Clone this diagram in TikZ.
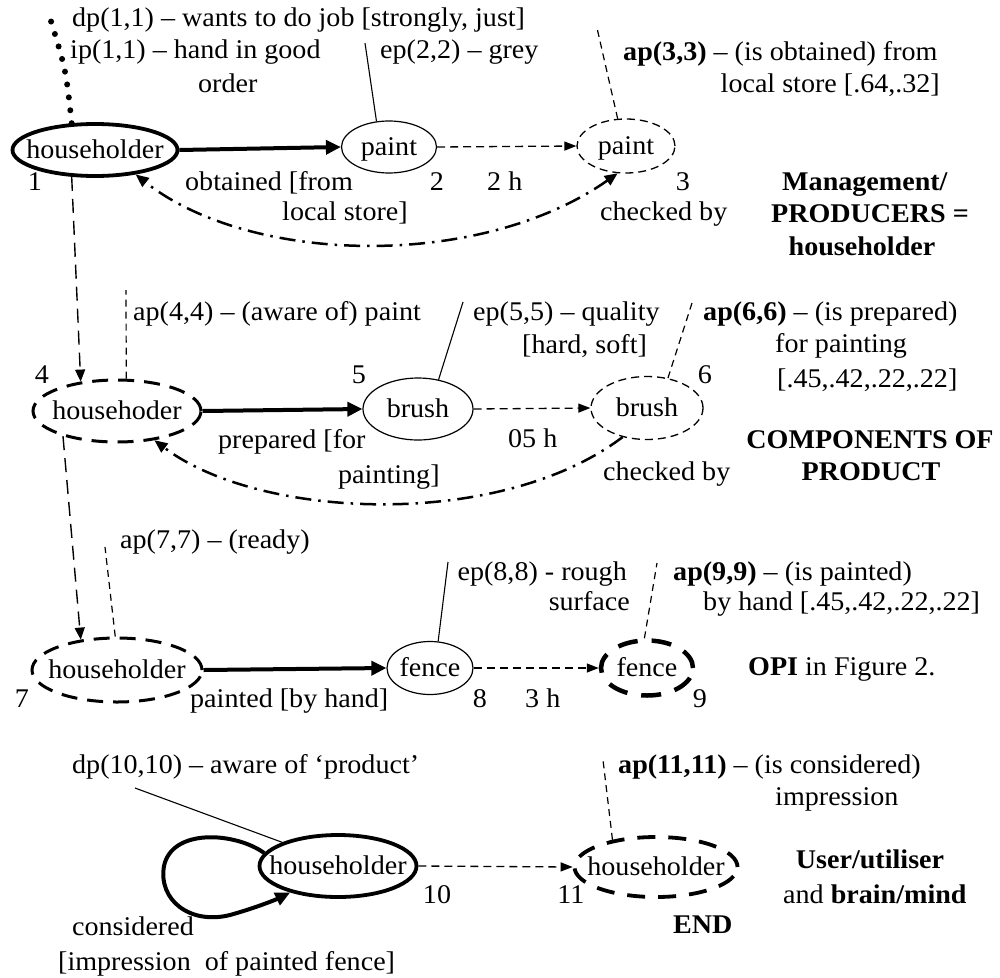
\documentclass[tikz,border=0pt]{standalone}
\usepackage{fontspec}
\setmainfont{Liberation Serif}[FakeStretch=1.04]
\usetikzlibrary{shapes.geometric,arrows.meta}
\newcommand\ztext[1]{\makebox[0pt]{#1}}
\newcommand\fsz{\fontsize{27}{30}\selectfont}
\begin{document}
\begin{tikzpicture}[x=1pt,y=-1pt,
  txt/.style={inner sep=0pt, font=\fsz},
  el/.style={ellipse, inner sep=0pt, text height=16pt, text depth=0pt, font=\fsz},
  elthick/.style={el, draw, line width=3.8pt},
  elthin/.style={el, draw, line width=1.2pt},
  eldashthin/.style={el, draw, line width=1.3pt, dash pattern=on 8pt off 5pt},
  eldashthick/.style={el, draw, line width=3pt, dash pattern=on 16pt off 10pt},
  eldashheavy/.style={el, draw, line width=4.5pt, dash pattern=on 20pt off 14pt},
  bigarrow/.style={line width=4pt, -{Triangle[length=15pt,width=14pt]}},
  dasharrow/.style={line width=1.3pt, dash pattern=on 8pt off 5pt, -{Triangle[length=12pt,width=9pt]}},
  vdash/.style={line width=1.4pt, dash pattern=on 14pt off 8pt, -{Triangle[length=12pt,width=10pt]}},
  leader/.style={line width=1.1pt},
  dleader/.style={line width=1.2pt, dash pattern=on 7pt off 5pt},
  dashdot/.style={line width=2.5pt, dash pattern=on 16pt off 7pt on 2.5pt off 7pt},
  loopline/.style={line width=4pt, -{Triangle[length=15pt,width=13pt]}},
  dotline/.style={line width=6pt, line cap=round, dash pattern=on 0pt off 13pt}
]
\fill[white] (0,0) rectangle (1000,977);
\useasboundingbox (0,0) rectangle (1000,977);

% ---------- ellipses ----------
\node[elthick, minimum width=165pt, minimum height=52pt] (n1) at (95,150) {\ztext{householder}};
\node[elthin, minimum width=95pt, minimum height=52pt] (n2) at (389,147) {\ztext{paint}};
\node[eldashthin, minimum width=98pt, minimum height=54pt] (n3) at (626,146) {\ztext{paint}};
\node[eldashthick, minimum width=168pt, minimum height=62pt] (n4) at (117,411) {\ztext{househoder}};
\node[elthin, minimum width=110pt, minimum height=62pt] (n5) at (418,409) {\ztext{brush}};
\node[eldashthin, minimum width=112pt, minimum height=63pt] (n6) at (647,408) {\ztext{brush}};
\node[eldashthick, minimum width=170pt, minimum height=64pt] (n7) at (117,670) {\ztext{householder}};
\node[elthin, minimum width=86pt, minimum height=53pt] (n8) at (430,668) {\ztext{fence}};
\node[eldashheavy, minimum width=92pt, minimum height=55pt] (n9) at (647,668) {\ztext{fence}};
\node[elthick, minimum width=157pt, minimum height=62pt] (n10) at (338,866) {\ztext{householder}};
\node[eldashthick, line width=3.8pt, dash pattern=on 18pt off 13pt, minimum width=163pt, minimum height=60pt] (n11) at (656,867) {\ztext{householder}};

% ---------- free ends of leader lines ----------
\coordinate (c1) at (50,18);
\coordinate (c2) at (365,43);
\coordinate (c3) at (597,28);
\coordinate (c4) at (126,290);
\coordinate (c5) at (463,302);
\coordinate (c6) at (692,303);
\coordinate (c7) at (105,547);
\coordinate (c8) at (448,562);
\coordinate (c9) at (657,563);
\coordinate (c10) at (135,788);
\coordinate (c11) at (603,760);

% ---------- texts row 1 ----------
\node[txt, anchor=base west] (t1) at (72,27) {dp(1,1) – wants to do job [strongly, just]};
\node[txt, anchor=base west] (t2a) at (70,58) {ip(1,1) – hand in good};
\node[txt, anchor=base west] (t2b) at (198,92) {order};
\node[txt, anchor=base west] (t3) at (380,58) {ep(2,2) – grey};
\node[txt, anchor=base west] (t4a) at (623,60) {\textbf{ap(3,3)} – (is obtained) from};
\node[txt, anchor=base east] (t4b) at (940,92) {local store [.64,.32]};
\node[txt, anchor=base west] (t5a) at (185,190) {obtained [from};
\node[txt, anchor=base west] (t5b) at (282,220) {local store]};
\node[txt, anchor=base] (k1) at (35,190) {1};
\node[txt, anchor=base] (k2) at (437,190) {2};
\node[txt, anchor=base west] (h1) at (487,190) {2 h};
\node[txt, anchor=base] (k3) at (683,190) {3};
\node[txt, anchor=base west] (ch1) at (600,220) {checked by};
\node[txt, anchor=base] (m1) at (865,190) {\textbf{Management/}};
\node[txt, anchor=base] (m2) at (870,222) {\textbf{PRODUCERS =}};
\node[txt, anchor=base] (m3) at (862,255) {\textbf{householder}};

% ---------- texts row 2 ----------
\node[txt, anchor=base] (k4) at (42,383) {4};
\node[txt, anchor=base west] (t6) at (133,320) {ap(4,4) – (aware of) paint};
\node[txt, anchor=base] (k5) at (359,383) {5};
\node[txt, anchor=base west] (t7a) at (473,320) {ep(5,5) – quality};
\node[txt, anchor=base west] (t7b) at (522,353) {[hard, soft]};
\node[txt, anchor=base west] (t8a) at (703,320) {\textbf{ap(6,6)} – (is prepared)};
\node[txt, anchor=base west] (t8b) at (775,352) {for painting};
\node[txt, anchor=base west] (t8c) at (777,387) {[.45,.42,.22,.22]};
\node[txt, anchor=base] (k6) at (705,383) {6};
\node[txt, anchor=base west] (t9a) at (218,448) {prepared [for};
\node[txt, anchor=base west] (t9b) at (338,483) {painting]};
\node[txt, anchor=base west] (h2) at (508,447) {05 h};
\node[txt, anchor=base west] (ch2) at (603,480) {checked by};
\node[txt, anchor=base] (p1) at (870,448) {\textbf{COMPONENTS OF}};
\node[txt, anchor=base] (p2) at (871,480) {\textbf{PRODUCT}};

% ---------- texts row 3 ----------
\node[txt, anchor=base west] (t10) at (120,548) {ap(7,7) – (ready)};
\node[txt, anchor=base east] (t11a) at (627,580) {ep(8,8) - rough};
\node[txt, anchor=base east] (t11b) at (630,610) {surface};
\node[txt, anchor=base west] (t12a) at (673,580) {\textbf{ap(9,9)} – (is painted)};
\node[txt, anchor=base west] (t12b) at (703,610) {by hand [.45,.42,.22,.22]};
\node[txt, anchor=base] (k7) at (22,707) {7};
\node[txt, anchor=base west] (t13) at (190,707) {painted [by hand]};
\node[txt, anchor=base] (k8) at (480,707) {8};
\node[txt, anchor=base west] (h3) at (525,707) {3 h};
\node[txt, anchor=base] (k9) at (700,707) {9};
\node[txt, anchor=base west] (o1) at (748,675) {\textbf{OPI} in Figure 2.};

% ---------- texts row 4 ----------
\node[txt, anchor=base west] (t14) at (72,773) {dp(10,10) – aware of ‘product’};
\node[txt, anchor=base west] (t15a) at (618,773) {\textbf{ap(11,11)} – (is considered)};
\node[txt, anchor=base west] (t15b) at (775,805) {impression};
\node[txt, anchor=base] (k10) at (437,903) {10};
\node[txt, anchor=base] (k11) at (571,903) {11};
\node[txt, anchor=base] (u1) at (870,868) {\textbf{User/utiliser}};
\node[txt, anchor=base west] (u2) at (783,903) {and \textbf{brain/mind}};
\node[txt, anchor=base west] (e1) at (673,933) {\textbf{END}};
\node[txt, anchor=base west] (t16a) at (72,935) {considered};
\node[txt, anchor=base west] (t16b) at (58,970) {[impression\ \ of painted fence]};

% ---------- connectors ----------
\draw[bigarrow] (n1.east) -- (n2.west);
\draw[dasharrow] (n2.east) -- (n3.west);
\draw[bigarrow] (n4.east) -- (n5.west);
\draw[dasharrow] (n5.east) -- (n6.west);
\draw[bigarrow] (n7.east) -- (n8.west);
\draw[dasharrow] (n8.east) -- (n9.west);
\draw[dasharrow] (n10.east) -- (n11.west);

\draw[vdash] (n1.-131) -- (n4.141);
\draw[vdash] (n4.-155) -- (n7.140);

\draw[dotline] (n1.131) .. controls (66,70) .. (c1);
\draw[leader] (n2.116) -- (c2);
\draw[dleader] (n3.107) -- (c3);
\draw[dleader] (n4.74) -- (c4);
\draw[leader] (n5.55) -- (c5);
\draw[dleader] (n6.55) -- (c6);
\draw[dleader] (n7.93) -- (c7);
\draw[leader] (n8.73) -- (c8);
\draw[dleader] (n9.95) -- (c9);
\draw[leader] (n10.157) -- (c10);
\draw[dleader] (n11.148) -- (c11);

\draw[dashdot, {Triangle[length=13pt,width=11pt]}-{Triangle[length=13pt,width=11pt]}]
  (n3.-107) .. controls (480,270) and (250,265) .. (n1.-31);
\draw[dashdot, -{Triangle[length=13pt,width=11pt]}]
  (n6.-130) .. controls (500,530) and (260,520) .. (n4.-38);

\draw[loopline] (n10.170) .. controls (235,832) and (172,828) .. (164,866)
  .. controls (158,900) and (190,925) .. (230,915)
  .. controls (255,908) and (275,900) .. (n10.-151);
\end{tikzpicture}
\end{document}
